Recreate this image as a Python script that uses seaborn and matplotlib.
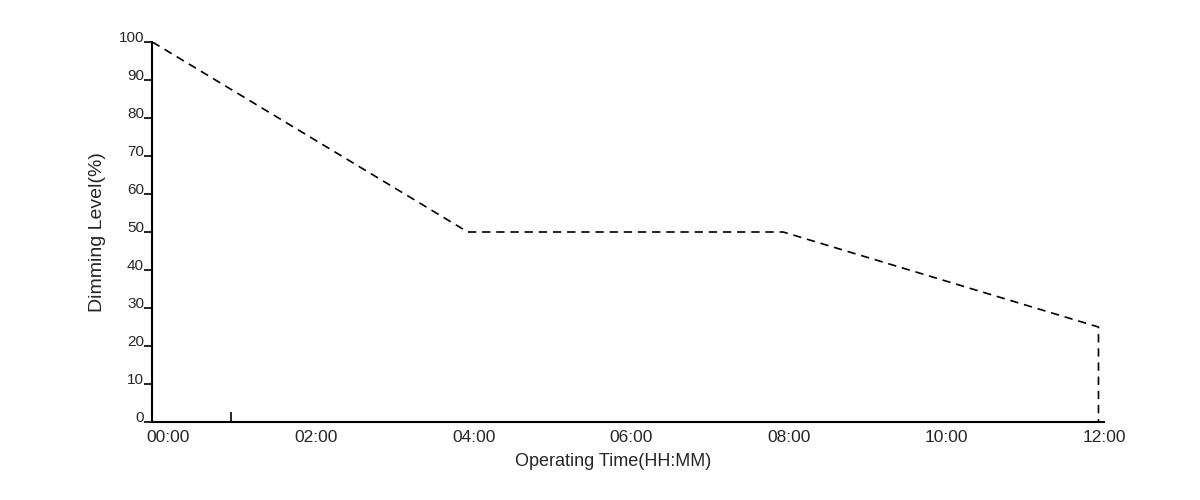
import matplotlib
matplotlib.use("Agg")
import matplotlib.pyplot as plt
import matplotlib.transforms as mtransforms
import seaborn as sns
import pandas as pd

# dimming schedule
hours = [0, 4, 8, 12, 12]
levels = [100, 50, 50, 25, 0]
x_ticks = [0, 2, 4, 6, 8, 10, 12]
x_labels = ["00:00", "02:00", "04:00", "06:00", "08:00", "10:00", "12:00"]
y_ticks = [0, 10, 20, 30, 40, 50, 60, 70, 80, 90, 100]

sns.set_theme(style="white")
plt.rcParams['font.family'] = ['Liberation Sans', 'DejaVu Sans']

df = pd.DataFrame({"hour": hours, "level": levels})

fig = plt.figure(figsize=(12, 5), dpi=100)
ax = fig.add_axes([0.127, 0.156, 0.793, 0.76])

sns.lineplot(data=df, x="hour", y="level", ax=ax, sort=False, estimator=None,
             color="black", linewidth=1.2, linestyle=(0, (5, 3.5)))

ax.set_xlim(0, 12.07)
ax.set_ylim(0, 100)

ax.set_xticks(x_ticks)
ax.set_xticklabels(x_labels, fontsize=12.5)
ax.set_xticks([1], minor=True)
ax.tick_params(axis="x", which="major", length=0, pad=6)
ax.tick_params(axis="x", which="minor", direction="in", length=7, width=1.2, color="black", bottom=True)

# labels in the reference sit a few pixels right of their positions
for i, lab in enumerate(ax.get_xticklabels()):
    dx = 16 if i == 0 else 6
    lab.set_transform(lab.get_transform() + mtransforms.ScaledTranslation(dx / 100, 0, fig.dpi_scale_trans))

ax.set_yticks(y_ticks)
ax.set_yticklabels([str(v) for v in y_ticks], fontsize=11, va="baseline")
ax.tick_params(axis="y", direction="out", length=6, width=1.2, color="black", pad=0, left=True)

for side in ["top", "right"]:
    ax.spines[side].set_visible(False)
for side in ["left", "bottom"]:
    ax.spines[side].set_color("black")
    ax.spines[side].set_linewidth(1.5)

ax.set_xlabel("Operating Time(HH:MM)", fontsize=13)
ax.xaxis.set_label_coords(0.484, -0.082)
ax.set_ylabel("Dimming Level(%)", fontsize=14, labelpad=9)

fig.savefig("out.png", dpi=100)
